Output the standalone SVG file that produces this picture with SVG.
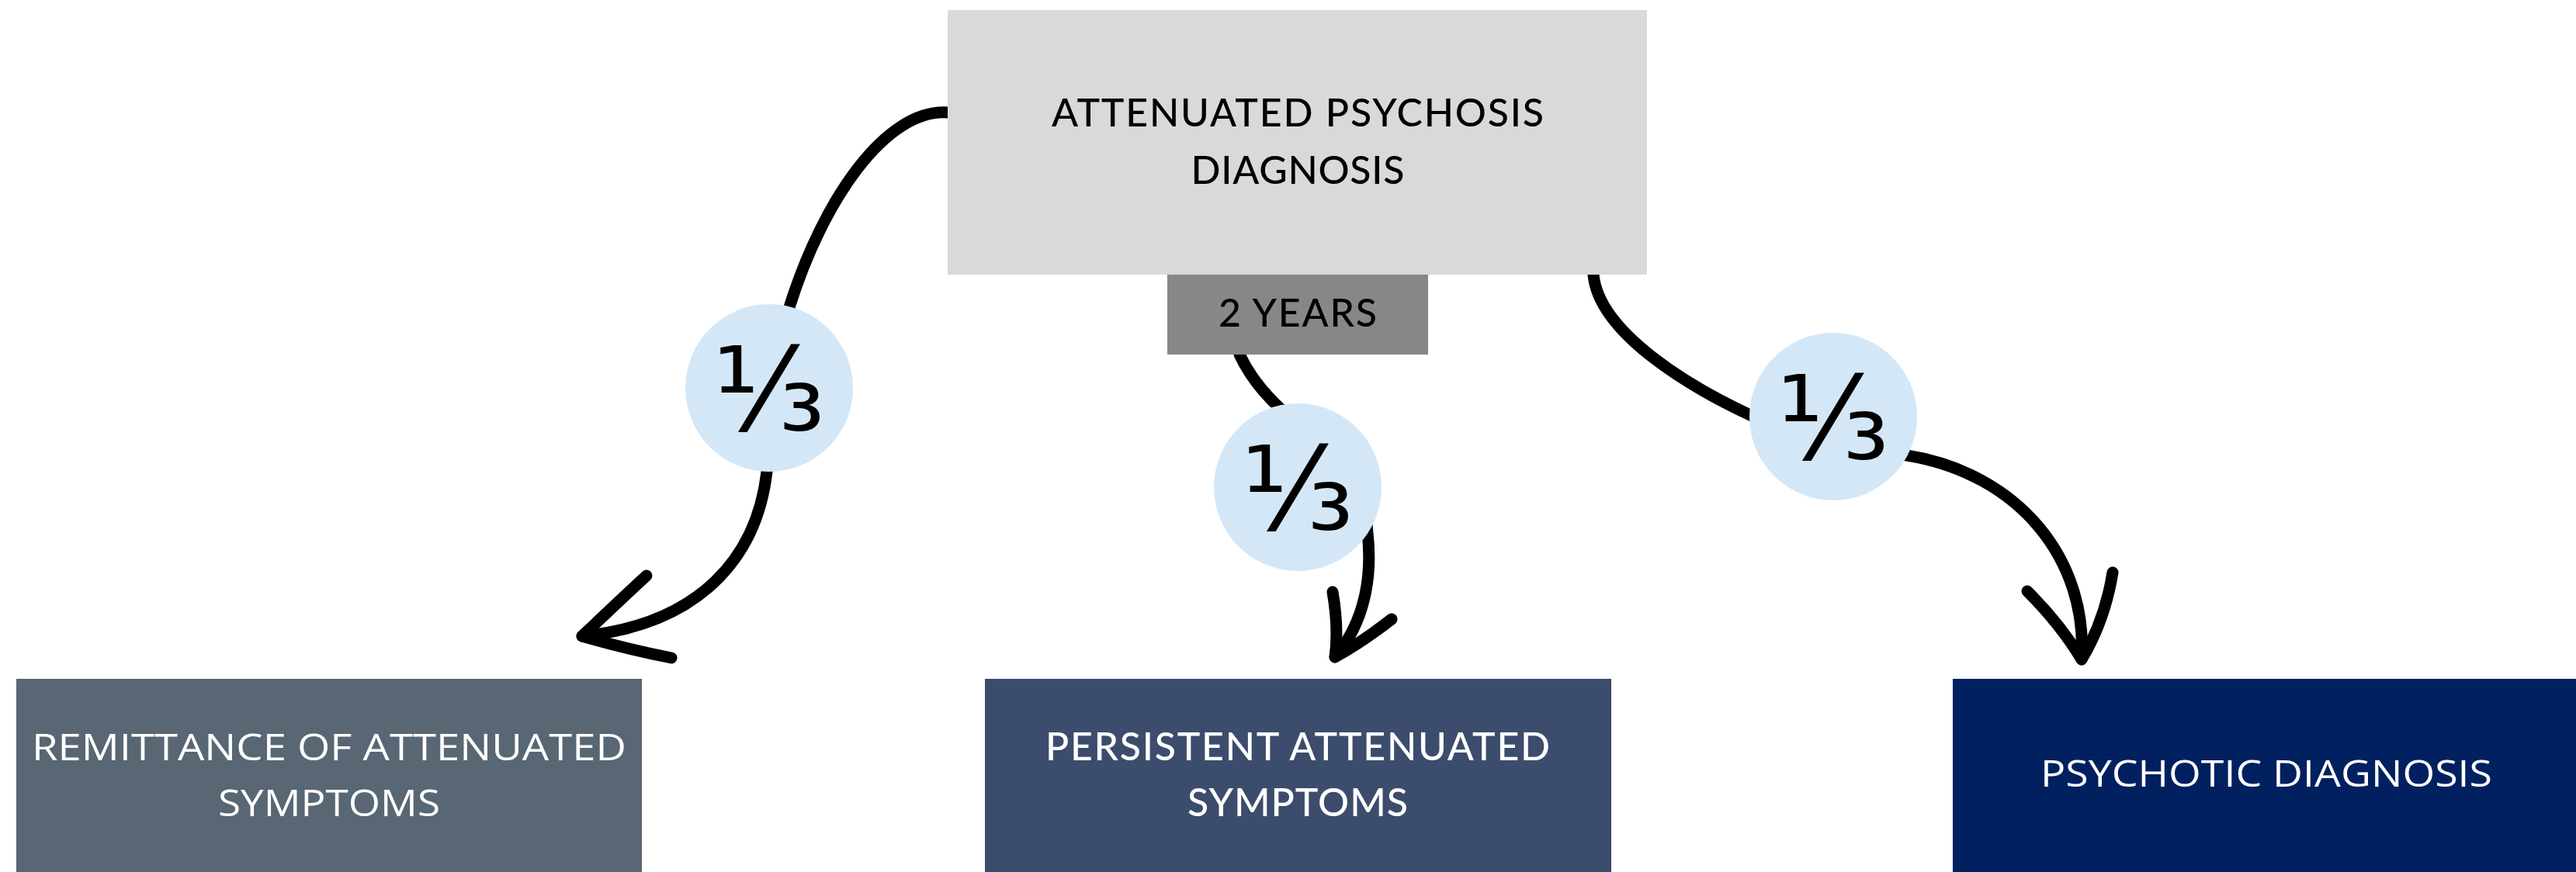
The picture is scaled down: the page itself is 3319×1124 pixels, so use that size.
<svg xmlns="http://www.w3.org/2000/svg" width="3319" height="1124" viewBox="0 0 3319 1124">
<style>
.conn{fill:none;stroke:#000;stroke-width:15;stroke-linecap:round;stroke-linejoin:round}
.geo{font-family:Lato,"Liberation Sans",sans-serif;font-size:50px;text-anchor:middle;font-weight:500}
.cond{font-family:"Open Sans","Liberation Sans",sans-serif;font-size:48px;text-anchor:middle;fill:#fff}
.frac{font-family:"DejaVu Sans",sans-serif;font-size:150px;text-anchor:middle;fill:#000}
.bubble{fill:#d4e7f6}
</style>
<rect width="3319" height="1124" fill="#fff"/>
<g id="connectors">
<path class="conn" d="M1221,145 C1140,140 1060,260 1018,393 C1005,440 992,550 988,608 C975,720 900,805 750,820"/>
<path class="conn" d="M833,742 Q808,765 750,820 Q805,836 865,848"/>
<path class="conn" d="M1597,457 Q1615,495 1650,527 C1720,580 1760,640 1762,687 C1768,740 1760,800 1720,847"/>
<path class="conn" d="M1717,763 Q1725,810 1720,847 Q1755,828 1793,798"/>
<path class="conn" d="M2053,354 C2060,430 2180,500 2255,535 C2330,565 2400,578 2457,587 C2600,610 2690,720 2682,850"/>
<path class="conn" d="M2612,762 Q2655,805 2682,850 Q2712,800 2722,738"/>
</g>
<g id="attenuated-psychosis">
<rect x="1221" y="13" width="901" height="341" fill="#d9d9d9"/>
<text class="geo" x="1672" y="163" fill="#000" textLength="634" lengthAdjust="spacing">ATTENUATED PSYCHOSIS</text>
<text class="geo" x="1672" y="237" fill="#000" textLength="275" lengthAdjust="spacing">DIAGNOSIS</text>
</g>
<g id="two-years">
<rect x="1504" y="354" width="336" height="103" fill="#878787"/>
<text class="geo" x="1672" y="421" fill="#000" textLength="204" lengthAdjust="spacing">2 YEARS</text>
</g>
<g id="bubble-left">
<circle class="bubble" cx="991" cy="500" r="108"/>
<text class="frac" x="991" y="555">⅓</text>
</g>
<g id="bubble-middle">
<circle class="bubble" cx="1672" cy="628" r="108"/>
<text class="frac" x="1672" y="683">⅓</text>
</g>
<g id="bubble-right">
<circle class="bubble" cx="2362" cy="537" r="108"/>
<text class="frac" x="2362" y="592">⅓</text>
</g>
<g id="remittance">
<rect x="21" y="875" width="806" height="249" fill="#596673"/>
<text class="cond" x="424" y="980" textLength="766" lengthAdjust="spacingAndGlyphs">REMITTANCE OF ATTENUATED</text>
<text class="cond" x="424" y="1052" textLength="286" lengthAdjust="spacingAndGlyphs">SYMPTOMS</text>
</g>
<g id="persistent">
<rect x="1269" y="875" width="807" height="249" fill="#3c4c6c"/>
<text class="geo" x="1672" y="980" fill="#fff" textLength="650" lengthAdjust="spacing">PERSISTENT ATTENUATED</text>
<text class="geo" x="1672" y="1052" fill="#fff" textLength="284" lengthAdjust="spacing">SYMPTOMS</text>
</g>
<g id="psychotic">
<rect x="2516" y="875" width="803" height="249" fill="#002060"/>
<text class="cond" x="2920" y="1014" textLength="582" lengthAdjust="spacingAndGlyphs">PSYCHOTIC DIAGNOSIS</text>
</g>
</svg>
